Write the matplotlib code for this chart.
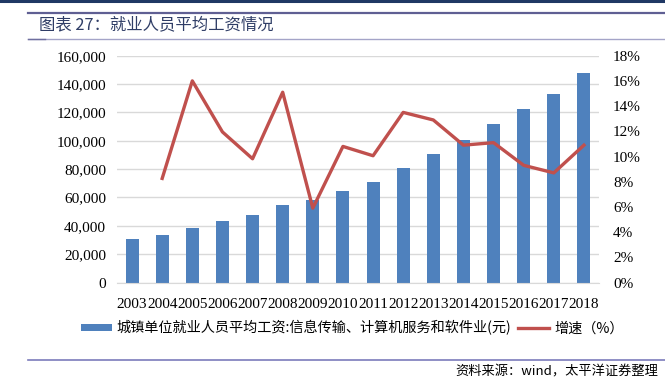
import matplotlib
matplotlib.use("Agg")
import matplotlib.pyplot as plt
from matplotlib.patches import Patch
from matplotlib.lines import Line2D
from matplotlib.ticker import FuncFormatter, MultipleLocator

years = ["2003", "2004", "2005", "2006", "2007", "2008", "2009", "2010",
         "2011", "2012", "2013", "2014", "2015", "2016", "2017", "2018"]
wages = [30897, 33449, 38799, 43435, 47700, 54906, 58154, 64436,
         70918, 80510, 90915, 100845, 112042, 122478, 133150, 147678]
growth = [None, 8.26, 16.0, 11.95, 9.82, 15.1, 5.9, 10.8,
          10.06, 13.5, 12.9, 10.9, 11.1, 9.3, 8.7, 10.9]

bar_label = "城镇单位就业人员平均工资:信息传输、计算机服务和软件业(元)"
line_label = "增速（%）"
title = "图表 27：就业人员平均工资情况"
source = "资料来源：wind，太平洋证券整理"

W, H = 665, 382
fig = plt.figure(figsize=(W / 100, H / 100), dpi=100)
cjk = ["Noto Sans CJK SC", "DejaVu Sans"]
serif = "Liberation Serif"

def px(x0, y0, x1, y1):
    return [x0 / W, 1 - y1 / H, (x1 - x0) / W, (y1 - y0) / H]

ax = fig.add_axes(px(117, 55.7, 599, 282.5))
x = list(range(len(years)))
ax.bar(x, wages, width=0.43, color="#4f81bd", zorder=2)
ax.set_xlim(-0.5, len(years) - 0.5)
ax.set_ylim(0, 160000)
ax.yaxis.set_major_locator(MultipleLocator(20000))
ax.yaxis.set_major_formatter(FuncFormatter(lambda v, p: f"{int(v):,}"))
ax.set_xticks(x)
ax.set_xticklabels(years)
ax.grid(axis="y", color="#d9d9d9", linewidth=1, zorder=0)
for s in ["top", "right", "left"]:
    ax.spines[s].set_visible(False)
ax.spines["bottom"].set_color("#d9d9d9")
ax.tick_params(axis="both", length=0, labelsize=11, colors="#000000")
ax.tick_params(axis="y", pad=8)
ax.tick_params(axis="x", pad=11)
for lab in ax.get_xticklabels() + ax.get_yticklabels():
    lab.set_fontfamily(serif)

ax2 = ax.twinx()
gx = [i for i, g in zip(x, growth) if g is not None]
gy = [g for g in growth if g is not None]
ax2.plot(gx, gy, color="#c0504d", linewidth=2.4, zorder=3)
ax2.set_ylim(0, 18)
ax2.yaxis.set_major_locator(MultipleLocator(2))
ax2.yaxis.set_major_formatter(FuncFormatter(lambda v, p: f"{int(round(v))}%"))
for s in ["top", "right", "left", "bottom"]:
    ax2.spines[s].set_visible(False)
ax2.tick_params(axis="y", length=0, labelsize=11, pad=10)
for lab in ax2.get_yticklabels():
    lab.set_fontfamily(serif)

# legend
handles = [Patch(facecolor="#4f81bd", edgecolor="none", label=bar_label),
           Line2D([0], [0], color="#c0504d", linewidth=2.4, label=line_label)]
fig.legend(handles=handles, loc="center left", bbox_to_anchor=(81 / W, 1 - 328 / H),
           ncol=2, frameon=False, prop={"family": cjk, "size": 10.2},
           handlelength=2.16, handleheight=0.45, handletextpad=0.36,
           columnspacing=0.5, borderpad=0, borderaxespad=0)

# decorations
fig.add_artist(Line2D([0, 1], [1 - 1 / H, 1 - 1 / H], color="#1f3864", linewidth=2.2))
fig.add_artist(Line2D([28 / W, 1], [1 - 12.7 / H, 1 - 12.7 / H], color="#5f5f93", linewidth=1.6))
fig.add_artist(Line2D([28 / W, 1], [1 - 39 / H, 1 - 39 / H], color="#a4a4c8", linewidth=1))
fig.add_artist(Line2D([28 / W, 45 / W], [1 - 39 / H, 1 - 39 / H], color="#6f6f9f", linewidth=1))
fig.add_artist(Line2D([28 / W, 1], [1 - 360.3 / H, 1 - 360.3 / H], color="#7b7bbb", linewidth=1.2))
fig.text(39 / W, 1 - 25 / H, title, family=cjk, fontsize=11.8, va="center", ha="left",
         color="#2f3d66")
fig.text(658 / W, 1 - 372 / H, source, family=cjk, fontsize=9.5, va="center", ha="right",
         style="italic", color="#000000")

fig.savefig("out.png", dpi=100)
